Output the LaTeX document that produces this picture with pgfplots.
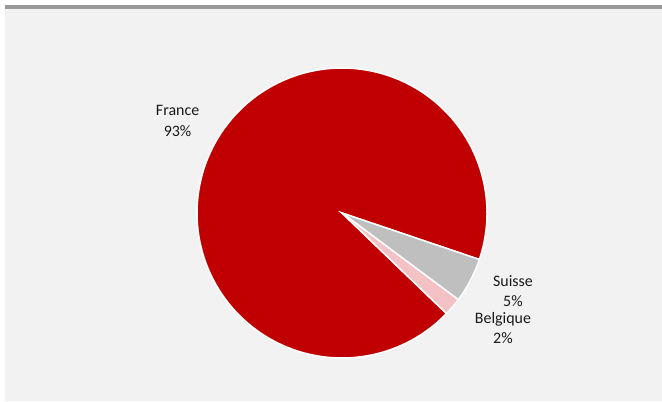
\documentclass[border=0pt]{standalone}
\usepackage{pgfplots}
\pgfplotsset{compat=1.18}
\usepackage{fontspec}
\setmainfont{Carlito}
\definecolor{frred}{HTML}{C00000}
\definecolor{chgrey}{HTML}{BFBFBF}
\definecolor{bepink}{HTML}{F4C2C4}
\definecolor{bg}{HTML}{F2F2F2}
\definecolor{topline}{HTML}{999999}
\begin{document}
\begin{tikzpicture}[x=1bp,y=1bp]
\path[use as bounding box, fill=white] (0,0) rectangle (662,401);
\fill[bg] (5,0) rectangle (662,392);
\fill[topline] (5,392) rectangle (662,396);
% values (percent)
\def\vB{2}\def\vS{5}\def\vF{93}
\def\st{-43.9}
\pgfmathsetmacro{\aA}{\st}
\pgfmathsetmacro{\aB}{\st+3.6*\vB}
\pgfmathsetmacro{\aC}{\aB+3.6*\vS}
\pgfmathsetmacro{\aD}{\aC+3.6*\vF}
\begin{axis}[at={(342bp,188bp)}, anchor=origin, scale only axis, width=290bp, height=290bp,
  xmin=-1, xmax=1, ymin=-1, ymax=1, hide axis, clip=false]
\addplot[fill=frred, draw=white, line width=1.5pt, domain=\aC:\aD, samples=200, variable=\t] ({cos(\t)},{sin(\t)}) -- (axis cs:0,0) -- cycle;
\addplot[fill=chgrey, draw=white, line width=1.5pt, domain=\aB:\aC, samples=20, variable=\t] ({cos(\t)},{sin(\t)}) -- (axis cs:0,0) -- cycle;
\addplot[fill=bepink, draw=white, line width=1.5pt, domain=\aA:\aB, samples=10, variable=\t] ({cos(\t)},{sin(\t)}) -- (axis cs:0,0) -- cycle;
\node[align=center, font=\fontsize{16}{20.5}\selectfont, text=black!90] at (axis cs:-1.134,0.634) {France\\93\%};
\node[align=center, font=\fontsize{16}{20.5}\selectfont, text=black!90] at (axis cs:1.179,-0.538) {Suisse\\5\%};
\node[align=center, font=\fontsize{16}{20.5}\selectfont, text=black!90] at (axis cs:1.11,-0.793) {Belgique\\2\%};
\end{axis}
\end{tikzpicture}
\end{document}
